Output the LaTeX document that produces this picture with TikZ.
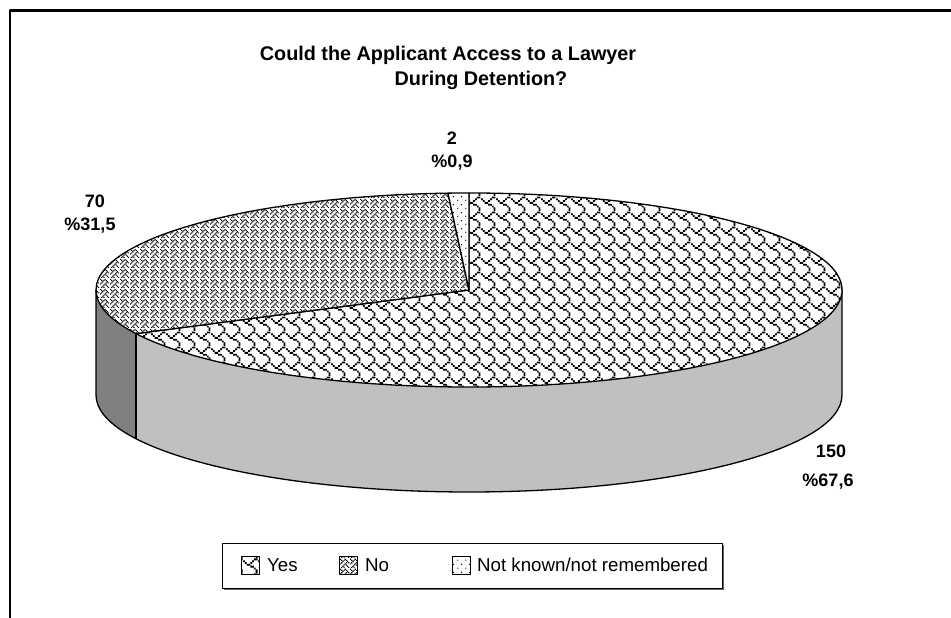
\documentclass[tikz,border=0pt]{standalone}
\usepackage{fontspec}
\setmainfont{Liberation Sans}
\usetikzlibrary{patterns}

\definecolor{yesside}{RGB}{192,192,192}
\definecolor{noside}{RGB}{128,128,128}

% pixel helper: column, row (row 0 at top) of an 8x8 bitmap, pixel size \pxs
\newcommand{\bmpx}[2]{\pgfpathrectangle{\pgfpoint{#1\pxs}{7\pxs-#2\pxs}}{\pgfpoint{\pxs}{\pxs}}}
\newlength{\pxs}

\pgfdeclarepatternformonly{shingle}{\pgfpoint{0pt}{0pt}}{\pgfpoint{15.2pt}{15.2pt}}{\pgfpoint{15.2pt}{15.2pt}}{%
  \setlength{\pxs}{1.9pt}%
  \bmpx{6}{0}\bmpx{7}{0}%
  \bmpx{0}{1}\bmpx{5}{1}%
  \bmpx{1}{2}\bmpx{4}{2}%
  \bmpx{2}{3}\bmpx{3}{3}%
  \bmpx{4}{4}\bmpx{5}{4}%
  \bmpx{6}{5}%
  \bmpx{7}{6}%
  \bmpx{7}{7}%
  \pgfusepath{fill}%
}
\pgfdeclarepatternformonly{weave}{\pgfpoint{0pt}{0pt}}{\pgfpoint{10pt}{10pt}}{\pgfpoint{10pt}{10pt}}{%
  \setlength{\pxs}{1.25pt}%
  \bmpx{0}{0}\bmpx{4}{0}%
  \bmpx{1}{1}\bmpx{3}{1}\bmpx{5}{1}%
  \bmpx{2}{2}\bmpx{6}{2}%
  \bmpx{1}{3}\bmpx{5}{3}\bmpx{7}{3}%
  \bmpx{0}{4}\bmpx{4}{4}%
  \bmpx{3}{5}\bmpx{5}{5}%
  \bmpx{2}{6}\bmpx{6}{6}%
  \bmpx{1}{7}\bmpx{3}{7}\bmpx{7}{7}%
  \pgfusepath{fill}%
}
\pgfdeclarepatternformonly{sparsedots}{\pgfpoint{0pt}{0pt}}{\pgfpoint{8pt}{8pt}}{\pgfpoint{8pt}{8pt}}{%
  \pgfpathcircle{\pgfpoint{2pt}{2pt}}{0.75pt}%
  \pgfpathcircle{\pgfpoint{6pt}{6pt}}{0.75pt}%
  \pgfusepath{fill}%
}

\tikzset{
  lbl/.style={font=\bfseries\fontsize{18}{21}\selectfont, inner sep=0pt},
  ttl/.style={font=\bfseries\fontsize{19.8}{23}\selectfont, inner sep=0pt, anchor=base},
  legtxt/.style={font=\fontsize{18.7}{22}\selectfont, inner sep=0pt, anchor=base west},
  rim/.style={line width=1.3pt, draw=black},
  swatch/.style={draw=black, line width=0.8pt, preaction={fill=white}},
  ell/.style={x radius=373, y radius=97}
}

\begin{document}
\begin{tikzpicture}[x=1pt,y=1pt,line join=round]
\useasboundingbox (0,0) rectangle (951,618);
% frame
\draw[line width=2.2pt] (10,0) -- (10,607.5) -- (951,607.5);

% title
\node[ttl] (title1) at (448,557) {Could the Applicant Access to a Lawyer};
\node[ttl] (title2) at (481,532) {During Detention?};

% pie
\begin{scope}[shift={(469,328)}]
  % side walls
  \fill[yesside] (206.76:373 and 97) arc[start angle=206.76,end angle=360,ell] -- ++(0,-105)
     arc[start angle=360,end angle=206.76,ell] -- cycle;
  \fill[noside] (180:373 and 97) arc[start angle=180,end angle=206.76,ell] -- ++(0,-105)
     arc[start angle=206.76,end angle=180,ell] -- cycle;
  \draw[rim] (180:373 and 97) -- ++(0,-105) arc[start angle=180,end angle=360,ell] -- (0:373 and 97);
  \draw[rim] (206.76:373 and 97) -- ++(0,-105);
  % top slices
  \draw[rim, preaction={fill=white}, pattern=shingle]
     (0,0) -- (206.76:373 and 97) arc[start angle=206.76,end angle=450,ell] -- cycle;
  \draw[rim, preaction={fill=white}, pattern=weave]
     (0,0) -- (93.24:373 and 97) arc[start angle=93.24,end angle=206.76,ell] -- cycle;
  \draw[rim, preaction={fill=white}, pattern=sparsedots]
     (0,0) -- (90:373 and 97) arc[start angle=90,end angle=93.24,ell] -- cycle;
\end{scope}

% data labels
\node[lbl] (v2) at (452,480) {2};
\node[lbl] (p2) at (452,455) {\%0,9};
\node[lbl] (v70) at (95,417) {70};
\node[lbl] (p70) at (90,392) {\%31,5};
\node[lbl] (v150) at (831,167) {150};
\node[lbl] (p150) at (828,136) {\%67,6};

% legend
\fill[black!60] (224,28) rectangle (724,73);
\draw[line width=0.8pt, fill=white] (222,30) rectangle (722,75);
\draw[swatch, pattern=shingle] (241,43.5) rectangle (259,61.5);
\draw[swatch, pattern=weave] (339,43.5) rectangle (357,61.5);
\draw[swatch, pattern=sparsedots] (452,43.5) rectangle (470,61.5);
\node[legtxt] (lyes) at (267,46) {Yes};
\node[legtxt] (lno) at (365,46) {No};
\node[legtxt] (lnk) at (477,46) {Not known/not remembered};
\end{tikzpicture}
\end{document}
